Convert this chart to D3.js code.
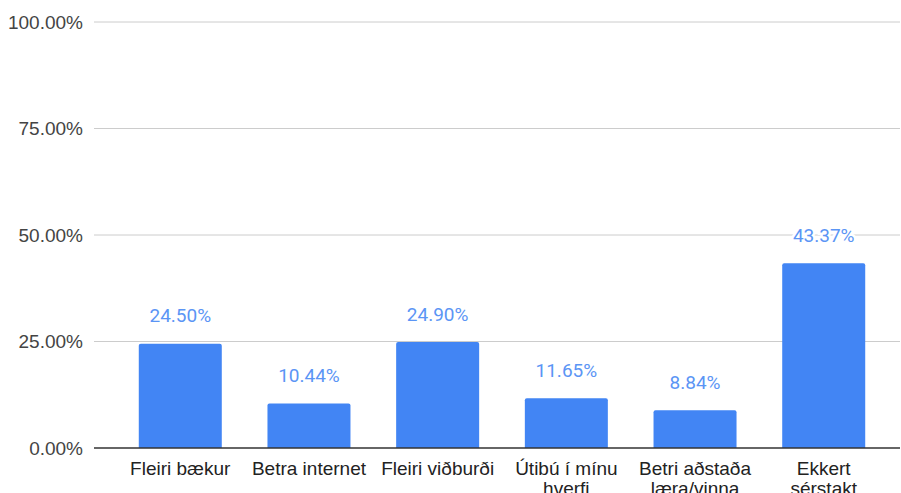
<!DOCTYPE html>
<html>
<head>
<meta charset="utf-8">
<script src="https://cdn.jsdelivr.net/npm/d3@7"></script>
<style>
  body { margin: 0; background: #fff; }
</style>
</head>
<body>
<div id="chart"></div>
<script>
const categories = [
  ["Fleiri bækur"],
  ["Betra internet"],
  ["Fleiri viðburði"],
  ["Útibú í mínu", "hverfi"],
  ["Betri aðstaða", "læra/vinna"],
  ["Ekkert", "sérstakt"]
];
const values = [24.50, 10.44, 24.90, 11.65, 8.84, 43.37];
const yTicks = [0, 25, 50, 75, 100];

const width = 901, height = 493;
const gridLeft = 94, gridRight = 900;

const svg = d3.select("#chart").append("svg")
  .attr("width", width)
  .attr("height", height);

const x = d3.scaleBand()
  .domain(d3.range(values.length))
  .range([116, 888])
  .paddingInner(0.355)
  .paddingOuter(0.177);

const y = d3.scaleLinear()
  .domain([0, 100])
  .range([448, 22]);

// gridlines
svg.append("g")
  .selectAll("line")
  .data(yTicks.filter(d => d > 0))
  .enter().append("line")
  .attr("x1", gridLeft).attr("x2", gridRight)
  .attr("y1", d => y(d)).attr("y2", d => y(d))
  .attr("stroke", "#cccccc")
  .attr("stroke-width", 1);

// y tick labels
svg.append("g")
  .selectAll("text")
  .data(yTicks)
  .enter().append("text")
  .attr("x", 83)
  .attr("y", d => y(d))
  .attr("dy", "0.35em")
  .attr("text-anchor", "end")
  .style("font-family", "Liberation Sans, Arial, sans-serif")
  .style("font-size", "19px")
  .attr("fill", "#444")
  .text(d => d3.format(".2f")(d) + "%");

// bars
svg.append("g")
  .selectAll("path")
  .data(values)
  .enter().append("path")
  .attr("fill", "#4285f4")
  .attr("d", (d, i) => {
    const x0 = x(i), w = x.bandwidth(), y0 = y(d), b = y(0), r = 2;
    return `M${x0},${b}V${y0 + r}Q${x0},${y0} ${x0 + r},${y0}H${x0 + w - r}Q${x0 + w},${y0} ${x0 + w},${y0 + r}V${b}Z`;
  });

// baseline
svg.append("line")
  .attr("x1", gridLeft).attr("x2", gridRight)
  .attr("y1", y(0)).attr("y2", y(0))
  .attr("stroke", "#333")
  .attr("stroke-width", 1.3);

// value labels
svg.append("g")
  .selectAll("text")
  .data(values)
  .enter().append("text")
  .attr("x", (d, i) => x(i) + x.bandwidth() / 2)
  .attr("y", d => y(d) - 28)
  .attr("dy", "0.35em")
  .attr("text-anchor", "middle")
  .style("font-family", "Roboto, sans-serif")
  .style("font-size", "19px")
  .attr("fill", "#5b95f5")
  .attr("stroke", "#fff")
  .attr("stroke-width", 5)
  .attr("paint-order", "stroke")
  .text(d => d3.format(".2f")(d) + "%");

// category labels
const cat = svg.append("g")
  .selectAll("text")
  .data(categories)
  .enter().append("text")
  .attr("x", (d, i) => x(i) + x.bandwidth() / 2)
  .attr("y", 475)
  .attr("text-anchor", "middle")
  .style("font-family", "Liberation Sans, Arial, sans-serif")
  .style("font-size", "19px")
  .attr("fill", "#222");

cat.selectAll("tspan")
  .data(d => d)
  .enter().append("tspan")
  .attr("x", function() { return this.parentNode.getAttribute("x"); })
  .attr("dy", (d, i) => i === 0 ? 0 : 20)
  .text(d => d);
</script>
</body>
</html>
